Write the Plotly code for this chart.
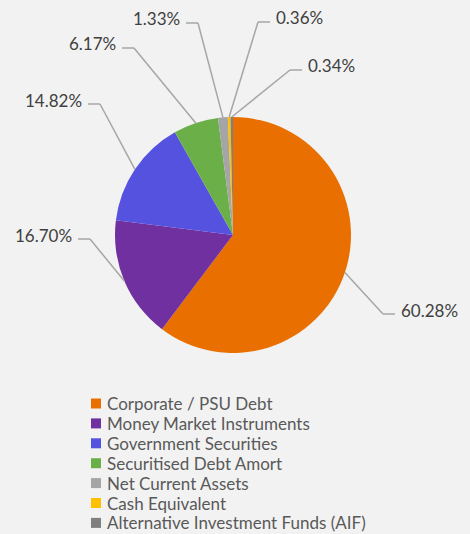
import math
import plotly.graph_objects as go

# ---- data ----
categories = [
    "Corporate / PSU Debt",
    "Money Market Instruments",
    "Government Securities",
    "Securitised Debt Amort",
    "Net Current Assets",
    "Cash Equivalent",
    "Alternative Investment Funds (AIF)",
]
values = [60.28, 16.70, 14.82, 6.17, 1.33, 0.36, 0.34]
colors = ["#E97000", "#7030A0", "#5552DF", "#6BAF48", "#A5A5A5", "#FFC000", "#7F7F7F"]

# ---- layout constants (pixels) ----
W, H = 470, 534
CX, CY, R = 233, 235, 118
FONT = "Lato"
BG = "#F2F2F2"
# label elbow points (x, y), side (+1 right, -1 left)
elbows = [(383, 314, 1), (90, 239, -1), (100, 104, -1), (134, 48, -1),
          (198, 23, -1), (258, 22, 1), (290, 70, 1)]
HSEG = 12
TGAP = 4
# legend geometry
LEG_X, LEG_Y0, LEG_DY, SQ = 91, 403.5, 19.9, 10


def px(x):
    return x / W


def py(y):
    return 1 - y / H


fig = go.Figure()
fig.add_trace(go.Pie(
    labels=categories, values=values, sort=False, direction="clockwise",
    rotation=0, textinfo="none", hoverinfo="label+percent",
    marker=dict(colors=colors, line=dict(width=0)),
    domain=dict(x=[px(CX - R), px(CX + R)], y=[py(CY + R), py(CY - R)]),
    showlegend=False,
))

total = sum(values)
cum = 0.0
shapes, annotations = [], []
for v, (ex, ey, side) in zip(values, elbows):
    mid = (cum + v / 2) / total * 2 * math.pi
    cum += v
    sx = CX + R * math.sin(mid)
    sy = CY - R * math.cos(mid)
    hx = ex + side * HSEG
    line = dict(color="#A6A6A6", width=1.5)
    shapes.append(dict(type="line", xref="paper", yref="paper",
                       x0=px(sx), y0=py(sy), x1=px(ex), y1=py(ey), line=line))
    shapes.append(dict(type="line", xref="paper", yref="paper",
                       x0=px(ex), y0=py(ey), x1=px(hx), y1=py(ey), line=line))
    annotations.append(dict(
        xref="paper", yref="paper", x=px(hx + side * TGAP), y=py(ey - 4),
        text=f"{v:.2f}%", showarrow=False,
        xanchor="left" if side > 0 else "right", yanchor="middle",
        font=dict(family=FONT, size=17, color="#404040")))

# legend (square swatch + label per category)
for i, (name, col) in enumerate(zip(categories, colors)):
    yc = LEG_Y0 + i * LEG_DY
    shapes.append(dict(type="rect", xref="paper", yref="paper",
                       x0=px(LEG_X), x1=px(LEG_X + SQ),
                       y0=py(yc + SQ / 2), y1=py(yc - SQ / 2),
                       fillcolor=col, line=dict(width=0)))
    annotations.append(dict(
        xref="paper", yref="paper", x=px(LEG_X + SQ + 4), y=py(yc),
        text=name, showarrow=False, xanchor="left", yanchor="middle",
        font=dict(family=FONT, size=17, color="#595959")))

fig.update_layout(
    width=W, height=H, margin=dict(l=0, r=0, t=0, b=0),
    paper_bgcolor=BG, plot_bgcolor=BG,
    shapes=shapes, annotations=annotations,
    showlegend=False,
)
fig.write_html("out.html", config={"displayModeBar": False},
               post_script="document.body.style.margin='0';")
